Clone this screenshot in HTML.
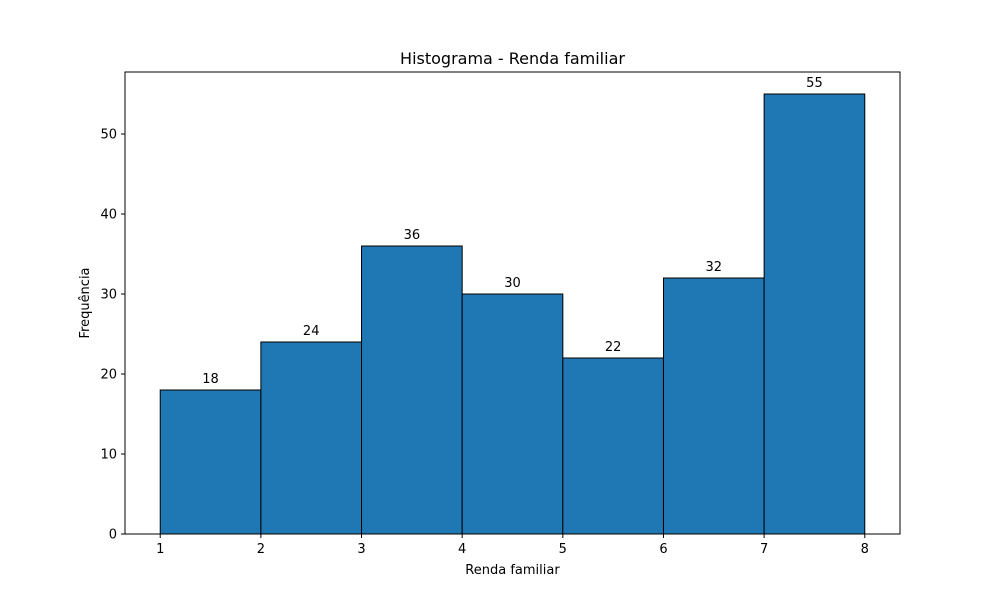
<!DOCTYPE html>
<html><head><meta charset="utf-8"><style>
body{margin:0;background:#fff}
svg text{font-family:"DejaVu Sans","Liberation Sans",sans-serif;fill:#000}
</style></head><body>
<svg id="chart" width="1000" height="600" xmlns="http://www.w3.org/2000/svg">
<rect width="1000" height="600" fill="#fff"/>
<text x="512.5" y="64" font-size="16" text-anchor="middle">Histograma - Renda familiar</text>
<g id="bars"></g>
<g id="xticks"></g>
<g id="yticks"></g>
<rect x="125" y="72" width="775" height="462" fill="none" stroke="#000" stroke-width="1"/>
<text x="512.5" y="574" font-size="13" text-anchor="middle">Renda familiar</text>
<text x="0" y="0" font-size="13" text-anchor="middle" transform="translate(89,303) rotate(-90)">Frequência</text>
</svg>
<script>
const binEdges=[1,2,3,4,5,6,7,8];
const counts=[18,24,36,30,22,32,55];
const xTicks=[1,2,3,4,5,6,7,8];
const yTicks=[0,10,20,30,40,50];
const NS="http://www.w3.org/2000/svg";
const x0=125,x1=900,y0=534,y1=72;
const xmin=1-0.35,xmax=8+0.35,ymax=Math.max(...counts)*1.05;
const sx=v=>x0+(v-xmin)/(xmax-xmin)*(x1-x0);
const sy=v=>y0-v/ymax*(y0-y1);
function mk(t,a,p){const e=document.createElementNS(NS,t);for(const k in a)e.setAttribute(k,a[k]);p.appendChild(e);return e;}
const bars=document.getElementById('bars');
counts.forEach((c,i)=>{
 const xa=sx(binEdges[i]),xb=sx(binEdges[i+1]);
 const r=mk('rect',{x:xa,y:sy(c),width:xb-xa,height:sy(0)-sy(c),fill:'#1f77b4',stroke:'#000','stroke-width':1},bars);
 
 
 const t=mk('text',{x:(xa+xb)/2,y:sy(c)-7,'font-size':13,'text-anchor':'middle'},bars);
 t.textContent=c;
 
 
});
const xg=document.getElementById('xticks');
xTicks.forEach(v=>{
 const X=sx(v);
 mk('line',{x1:X,x2:X,y1:y0,y2:y0+4,stroke:'#000'},xg);
 const t=mk('text',{x:X,y:y0+19,'font-size':13,'text-anchor':'middle'},xg);
 t.textContent=v;
 
 
});
const yg=document.getElementById('yticks');
yTicks.forEach(v=>{
 const Y=sy(v);
 mk('line',{x1:x0-4,x2:x0,y1:Y,y2:Y,stroke:'#000'},yg);
 const t=mk('text',{x:x0-8,y:Y+4.5,'font-size':13,'text-anchor':'end'},yg);
 t.textContent=v;
 
 
});
</script>
</body></html>
